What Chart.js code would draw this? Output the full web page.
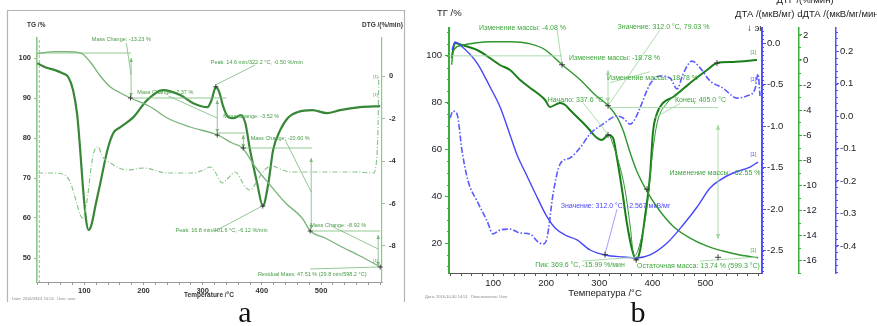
<!DOCTYPE html>
<html>
<head>
<meta charset="utf-8">
<script src="https://cdn.jsdelivr.net/npm/chart.js@4.4.1/dist/chart.umd.min.js"></script>
<style>
  body { margin: 0; background: #fff; }
  #wrap { position: relative; width: 877px; height: 326px; overflow: hidden; }
  canvas { position: absolute; top: 0; }
  #chartA { left: 0; }
  #chartB { left: 410px; }
</style>
</head>
<body>
<div id="wrap">
  <canvas id="chartA" width="410" height="326"></canvas>
  <canvas id="chartB" width="467" height="326"></canvas>
</div>
<script>
// ---------- panel a: TG / DTG ----------
var aTgTemp = [20.6, 34, 51, 68, 85, 97, 110, 127, 144, 161, 178, 212, 240, 279, 325, 350, 367, 389, 411, 440, 468, 482, 507, 532, 566, 600];
var aTgMass = [101, 101.4, 101.6, 101.6, 101.5, 101, 99, 95.5, 92.75, 91.25, 90, 87.75, 85, 82.75, 80.75, 78.75, 77.5, 72.75, 68.75, 63.75, 60, 56.75, 55, 53, 50.5, 47.75];

var aDtgTemp = [20.6, 34, 51, 63, 73, 81, 88, 93, 98, 103, 107, 112, 119, 127, 139, 149, 161, 183, 206, 233, 262, 284, 308, 315, 322.2, 328, 335, 343, 352, 364, 372, 380, 392, 401.6, 411, 419, 431, 445, 461, 485, 510, 532, 566, 600];
var aDtgRate = [0.61, 0.42, 0.28, 0.14, -0.05, -0.66, -1.84, -3.48, -5.36, -6.78, -7.25, -7.01, -6.07, -5.04, -3.48, -2.68, -2.4, -1.93, -1.13, -0.66, -0.89, -1.27, -1.46, -1.13, -0.5, -0.75, -1.46, -1.93, -1.98, -1.84, -2.21, -3.48, -5.04, -6.12, -5.04, -3.48, -2.54, -1.93, -1.69, -1.6, -1.74, -1.6, -1.46, -1.41];

// dash-dot trace, drawn against the TG scale
var aDscTemp = [22, 42.6, 63, 76, 88, 93, 97, 102, 107, 112, 119, 124, 129, 144, 173, 200, 240, 284, 301, 313, 321, 333, 343, 355, 372, 380, 394, 406, 418, 431, 448, 473, 516, 558, 588, 593, 595, 596.5, 597.5];
var aDscVal = [71.25, 71.25, 71, 69, 63.25, 60.75, 60, 62, 67, 73.25, 77.5, 77.75, 75.75, 73.75, 72, 72.5, 71.25, 71.25, 72, 72.75, 71.5, 68.75, 70, 71.5, 67.75, 67, 69.75, 72.25, 73, 72.25, 71.5, 71.5, 71.5, 71.5, 71.25, 73.25, 77, 84.5, 95.75];

var aTempLabels = [100, 200, 300, 400, 500];
var aTgLabels = [50, 60, 70, 80, 90, 100];
var aDtgLabels = [0, -2, -4, -6, -8];

// ---------- panel b: ТГ / ДТГ / ДТА / dДТА ----------
var bTgTemp = [22, 24.7, 37.9, 66, 100, 132, 170, 198, 230, 264, 292, 317, 333, 345, 358, 371, 390, 409, 439, 471, 503, 533, 565, 599.3];
var bTgMass = [96.2, 101.7, 104.3, 105.5, 106, 106, 105.1, 102.6, 96.2, 89.8, 83.4, 78.7, 74, 68.1, 58.7, 50.6, 42.1, 35.3, 27.2, 22.1, 18.7, 16.6, 14.9, 13.74];

var bDtgTemp = [22, 28, 41, 70, 94, 113, 132, 151, 170, 183, 198, 207, 226, 236, 245, 264, 277, 296, 305, 317, 326, 333, 343, 352, 362, 369.6, 377, 386, 396, 401, 409, 420, 439, 471, 503, 522, 552, 597];
var bDtgRate = [0.16, 1.36, 1.2, 0.8, 0.16, -0.4, -0.8, -1.6, -2.24, -2.64, -3.2, -3.76, -3.44, -3.6, -4.0, -4.8, -5.36, -6.24, -6.4, -6.0, -6.24, -7.76, -10.4, -13.04, -15.2, -15.99, -15.2, -12.56, -9.04, -5.84, -4.24, -3.44, -2.96, -1.84, -0.8, -0.24, -0.16, 0];

var bDtg2Temp = [320.3, 335.4, 348.6, 358, 365.6, 373.1, 390, 399.5, 409, 427.8, 452.3, 471.1];
var bDtg2Rate = [-6.08, -8, -10.4, -13.2, -15.68, -15.2, -11.76, -7.76, -5.04, -3.44, -2.56, -1.92];

var bDtaTemp = [22.8, 28.4, 37.9, 69.9, 94.4, 113.2, 132, 145.2, 160.3, 179.1, 201.7, 216.8, 235.6, 258.2, 282.7, 311, 344.8, 371.2, 395.6, 427.7, 457.8, 484.2, 508.6, 527.4, 551.9, 583.9, 599];
var bDtaVal = [-0.084, 0.012, -0.024, -0.241, -0.53, -0.771, -1.108, -1.349, -1.554, -1.807, -2.096, -2.229, -2.313, -2.373, -2.494, -2.554, -2.578, -2.59, -2.554, -2.41, -2.193, -1.976, -1.747, -1.651, -1.566, -1.494, -1.434];

var bDdtaTemp = [19, 24.7, 32.2, 41.6, 52.9, 69.9, 88.7, 100, 113.2, 132, 150.8, 169.7, 182.9, 194.2, 201.7, 213, 226.2, 245, 263.8, 282.7, 307.1, 333.5, 344.8, 358, 367.4, 376.8, 395.6, 414.5, 433.3, 446.5, 457.8, 474.7, 489.8, 508.6, 533.1, 559.5, 578.3, 593.3, 599, 602.8];
var bDdtaVal = [-0.006, 0.015, 0.006, -0.108, -0.2, -0.262, -0.323, -0.363, -0.351, -0.348, -0.36, -0.363, -0.385, -0.394, -0.375, -0.24, -0.148, -0.129, -0.098, -0.055, -0.025, 0, -0.006, -0.025, -0.009, 0.025, 0.098, 0.123, 0.117, 0.083, 0.129, 0.169, 0.148, 0.108, 0.086, 0.055, 0.062, 0.083, 0.129, 0.062];

var bTempLabels = [100, 200, 300, 400, 500];

var SANS = '"Liberation Sans", Arial, sans-serif';
var SERIF = '"Liberation Serif", "Times New Roman", serif';

function pts(xs, ys) {
  return xs.map(function (x, i) { return { x: x, y: ys[i] }; });
}

function trace(data, color, width, axis, dash) {
  return {
    data: data, borderColor: color, borderWidth: width, yAxisID: axis,
    borderDash: dash || [], pointRadius: 0, fill: false,
    cubicInterpolationMode: 'monotone'
  };
}

function fitW(w) { return function (s) { s.width = w; }; }
function fitH(h) { return function (s) { s.height = h; }; }

function yAxis(o) {
  return {
    type: 'linear', position: o.pos, min: o.min, max: o.max, weight: o.weight || 0,
    afterFit: fitW(o.w),
    border: { color: o.color, width: o.bw },
    grid: { drawOnChartArea: false, tickLength: o.tl, color: o.color },
    ticks: {
      stepSize: o.step, includeBounds: false, autoSkip: false, padding: o.pad,
      color: o.tickColor || '#222', font: o.font, callback: o.cb
    }
  };
}

function fix1(v) { return Math.abs(v) < 1e-9 ? '0.0' : v.toFixed(1); }

function head(ctx, x, y, dir, s) {
  ctx.beginPath();
  ctx.moveTo(x, y);
  ctx.lineTo(x - s * 0.45, y - dir * s);
  ctx.lineTo(x + s * 0.45, y - dir * s);
  ctx.closePath();
  ctx.fill();
}

// leader lines, arrows, labels and cross markers placed in data units
function makeMarks(n) {
  return {
    id: 'marks',
    afterDatasetsDraw: function (chart) {
      var ctx = chart.ctx, sx = chart.scales.x;
      var X = function (t) { return sx.getPixelForValue(t); };
      var Y = function (v, id) { return chart.scales[id || n.axis].getPixelForValue(v); };
      ctx.save();
      ctx.lineWidth = n.lineWidth;
      n.lines.forEach(function (l) {
        var c = l[5] || n.lineColor;
        ctx.strokeStyle = c; ctx.fillStyle = c;
        ctx.setLineDash(l[4] === 'dash' ? [3, 2] : []);
        var x1 = X(l[0]), y1 = Y(l[1]), x2 = X(l[2]), y2 = Y(l[3]);
        ctx.beginPath(); ctx.moveTo(x1, y1); ctx.lineTo(x2, y2); ctx.stroke();
        if (l[4] === 'both') {
          head(ctx, x1, y1, y1 < y2 ? -1 : 1, n.head);
          head(ctx, x2, y2, y2 > y1 ? 1 : -1, n.head);
        }
      });
      ctx.setLineDash([]);
      ctx.font = n.font; ctx.textAlign = 'center'; ctx.textBaseline = 'middle';
      n.texts.forEach(function (t) {
        ctx.font = t[4] || n.font;
        ctx.fillStyle = t[3] || n.textColor;
        ctx.fillText(t[0], X(t[1]), Y(t[2]));
      });
      ctx.strokeStyle = n.crossColor; ctx.lineWidth = 0.9;
      n.crosses.forEach(function (c) {
        var x = X(c[0]), y = Y(c[1], c[2]);
        ctx.beginPath();
        ctx.moveTo(x - n.cross, y); ctx.lineTo(x + n.cross, y);
        ctx.moveTo(x, y - n.cross); ctx.lineTo(x, y + n.cross);
        ctx.stroke();
      });
      ctx.restore();
    }
  };
}

function minorTicks(chart, id, step, len) {
  var s = chart.scales[id], ctx = chart.ctx;
  var left = s.position === 'left';
  var x0 = left ? s.right : s.left;
  ctx.save();
  ctx.strokeStyle = s.options.border.color; ctx.lineWidth = 1;
  ctx.beginPath();
  for (var v = Math.ceil(s.min / step) * step; v <= s.max; v += step) {
    var y = Math.round(s.getPixelForValue(v)) + 0.5;
    ctx.moveTo(x0, y); ctx.lineTo(left ? x0 - len : x0 + len, y);
  }
  ctx.stroke();
  ctx.restore();
}

// ---------- panel a ----------
var aSmall = '5.5px ' + SANS;
var aNotes = {
  axis: 'yTg', lineWidth: 0.8, lineColor: 'rgb(120,185,120)', head: 4,
  font: aSmall, textColor: 'rgb(70,155,70)', crossColor: '#333', cross: 2.5,
  lines: [
    [23.9, 104.5, 23.9, 44, 'dash'],
    [22, 101.25, 179, 101.25],
    [179, 100, 179, 90.25, 'both'],
    [171, 103.75, 179, 95.75],
    [179, 90, 340, 90],
    [242, 90.5, 324.6, 85],
    [324.6, 89.5, 324.6, 81.25, 'both'],
    [324.6, 81.25, 372, 81.25],
    [388.8, 98.25, 321.3, 93.25],
    [368.6, 80.75, 368.6, 77.5, 'both'],
    [368.6, 77.5, 485, 77.5],
    [439.5, 79.5, 483.4, 66.5],
    [483.4, 75, 483.4, 57.25, 'both'],
    [481.7, 56.75, 600, 56.75],
    [520.6, 57.75, 596.6, 52.25],
    [596.6, 55.75, 596.6, 48, 'both'],
    [317.9, 56.5, 400.6, 63],
    [481.7, 47.25, 596.6, 47.75]
  ],
  texts: [
    ['Mass Change: -13.23 %', 162.5, 104.75],
    ['Mass Change: -7.37 %', 236.8, 91.5],
    ['Peak: 14.6 min/322.2 °C, -0.50 %/min', 391.4, 99],
    ['Mass Change: -3.52 %', 382, 85.5],
    ['Mass Change: -20.60 %', 431, 80],
    ['Mass Change: -8.92 %', 529, 58.25],
    ['Peak: 16.8 min/401.6 °C, -6.12 %/min', 332, 57],
    ['Residual Mass: 47.51 % (29.8 min/598.2 °C)', 485, 46],
    ['[1]', 592, 95.25, null, '4px ' + SANS],
    ['[1]', 592, 90.75, null, '4px ' + SANS],
    ['[1]', 592, 49.2, null, '4px ' + SANS]
  ],
  crosses: [[178, 90], [324.6, 80.75], [368.6, 77.5], [481.7, 56.75], [600, 47.75], [322.2, -0.5, 'yDtg'], [401.6, -6.12, 'yDtg']]
};

var decorA = {
  id: 'decorA',
  afterDraw: function (chart) {
    var ctx = chart.ctx;
    ctx.save();
    ctx.strokeStyle = '#b4b4b4'; ctx.lineWidth = 1.2;
    ctx.beginPath();
    ctx.moveTo(7.5, 302); ctx.lineTo(7.5, 10.5); ctx.lineTo(404.5, 10.5); ctx.lineTo(404.5, 302);
    ctx.stroke();
    ctx.fillStyle = '#333'; ctx.font = 'bold 6.5px ' + SANS; ctx.textBaseline = 'middle';
    ctx.textAlign = 'left';
    ctx.fillText('TG /%', 27, 25);
    ctx.fillText('DTG /(%/min)', 362, 25);
    ctx.textAlign = 'center';
    ctx.fillText('Temperature /°C', 209, 295);
    ctx.textAlign = 'left'; ctx.fillStyle = '#888'; ctx.font = '4px ' + SANS;
    ctx.fillText('Date: 2016/03/01 10:24   User: user', 12, 299);
    ctx.fillStyle = '#111'; ctx.font = '30px ' + SERIF; ctx.textAlign = 'center'; ctx.textBaseline = 'alphabetic';
    ctx.fillText('a', 245, 322);
    ctx.restore();
  }
};

var aTickFont = { size: 7.5, weight: 'bold', family: SANS };

new Chart(document.getElementById('chartA'), {
  type: 'line',
  data: {
    datasets: [
      trace(pts(aDscTemp, aDscVal), 'rgb(140,196,140)', 1.2, 'yTg', [5, 2, 1, 2]),
      trace(pts(aTgTemp, aTgMass), 'rgb(120,180,120)', 1.3, 'yTg'),
      trace(pts(aDtgTemp, aDtgRate), 'rgb(55,135,55)', 2.2, 'yDtg')
    ]
  },
  options: {
    responsive: false, animation: false, devicePixelRatio: 1,
    layout: { padding: { top: 38, left: 0, right: 0, bottom: 0 }, autoPadding: false },
    plugins: { legend: { display: false }, tooltip: { enabled: false } },
    scales: {
      x: {
        type: 'linear', min: 20, max: 603, afterFit: fitH(44),
        border: { color: '#9a9a9a', width: 1 },
        grid: { drawOnChartArea: false, tickLength: 3, color: '#9a9a9a' },
        ticks: {
          stepSize: 20, autoSkip: false, maxRotation: 0, includeBounds: false, padding: 1,
          color: '#333', font: aTickFont,
          callback: function (v) { return aTempLabels.indexOf(v) >= 0 ? v : ''; }
        }
      },
      yTg: yAxis({ pos: 'left', min: 44, max: 105, step: 10, w: 37, tl: 3, pad: 3, color: 'rgb(140,200,140)', bw: 1.6, font: aTickFont, tickColor: '#333',
        cb: function (v) { return aTgLabels.indexOf(v) >= 0 ? v : ''; } }),
      yDtg: yAxis({ pos: 'right', min: -9.7, max: 1.8, step: 2, w: 28, tl: 3, pad: 4, color: 'rgb(140,200,140)', bw: 1.2, font: aTickFont, tickColor: '#333',
        cb: function (v) { return aDtgLabels.indexOf(v) >= 0 ? v : ''; } })
    }
  },
  plugins: [makeMarks(aNotes), decorA]
});

// ---------- panel b ----------
var BLUE = 'rgb(70,70,250)';
var GREEN = 'rgb(60,172,60)';
var bNotes = {
  axis: 'yTg', lineWidth: 0.9, lineColor: 'rgb(165,215,165)', head: 5,
  font: '7px ' + SANS, textColor: 'rgb(60,165,60)', crossColor: '#333', cross: 3,
  lines: [
    [17.1, 100, 229.9, 100],
    [220.5, 111.1, 229.9, 96.2],
    [414.5, 111.1, 316.5, 78.7],
    [395.6, 93.2, 320.3, 88.5],
    [316.5, 94, 316.5, 80, 'both'],
    [316.5, 77.9, 523.7, 77.9],
    [269.5, 80, 316.5, 66.4],
    [452, 79.6, 405, 73.6],
    [523.7, 70.6, 523.7, 21.7, 'both'],
    [333.5, 34.5, 310.9, 15.3, null, 'rgb(150,150,255)'],
    [267.6, 12.3, 371.2, 14.0],
    [489.8, 12.3, 597.1, 14.0]
  ],
  texts: [
    ['Изменение массы: -4.08 %', 155.5, 111.9],
    ['Значение: 312.0 °C, 79.03 %', 421, 112.3],
    ['Изменение массы: -18.78 %', 328.8, 99.15],
    ['Изменение массы: -18.78 %', 400.3, 90.6],
    ['Начало: 337.6 °C', 255.3, 81.3],
    ['Конец: 405.0 °C', 490.7, 81.3],
    ['Изменение массы: -62.55 %', 518, 49.8],
    ['Значение: 312.0 °C, -2.567 мкВ/мг', 330.7, 35.7, BLUE],
    ['Пик: 369.6 °C, -15.99 %/мин', 263.8, 10.6],
    ['Остаточная масса: 13.74 % (599.3 °C)', 486.9, 10.2],
    ['[1]', 590, 101.3, null, '5px ' + SANS],
    ['[1]', 590, 89.8, BLUE, '5px ' + SANS],
    ['[1]', 590, 57.9, BLUE, '5px ' + SANS],
    ['[1]', 590, 16.6, null, '5px ' + SANS]
  ],
  crosses: [[229.9, 96.2], [316.5, 78.7], [316.5, -6.0, 'yDtg'], [390, 43], [521.7, -0.24, 'yDtg'],
    [310.9, -2.55, 'yDta'], [369.6, -15.99, 'yDtg'], [523.7, 13.9]]
};

var decorB = {
  id: 'decorB',
  afterDraw: function (chart) {
    var ctx = chart.ctx, area = chart.chartArea;
    minorTicks(chart, 'yTg', 5, 2);
    minorTicks(chart, 'yDta', 0.05, 2);
    minorTicks(chart, 'yDtg', 1, 2);
    minorTicks(chart, 'yDdta', 0.02, 2);
    ctx.save();
    ctx.fillStyle = '#222'; ctx.font = '9.5px ' + SANS;
    ctx.textAlign = 'left'; ctx.textBaseline = 'alphabetic';
    ctx.fillText('ТГ /%', 27, 16);
    ctx.fillText('ДТА /(мкВ/мг) dДТА /(мкВ/мг/мин)', 325, 17);
    ctx.textAlign = 'center';
    ctx.fillText('ДТГ /(%/мин)', 395, 3);
    ctx.fillText('Температура /°C', 195, 296);
    ctx.save();
    ctx.beginPath(); ctx.rect(0, 0, area.right - 1, 60); ctx.clip();
    ctx.textAlign = 'left';
    ctx.fillText('↓ экзо', 337, 31);
    ctx.restore();
    ctx.textAlign = 'left'; ctx.fillStyle = '#888'; ctx.font = '4px ' + SANS;
    ctx.fillText('Дата: 2016-10-30 14:51   Пользователь: User', 15, 298);
    ctx.fillStyle = '#111'; ctx.font = '30px ' + SERIF; ctx.textAlign = 'center';
    ctx.fillText('b', 228, 322);
    ctx.restore();
  }
};

var bTickFont = { size: 9.5, family: SANS };

new Chart(document.getElementById('chartB'), {
  type: 'line',
  data: {
    datasets: [
      trace(pts(bDdtaTemp, bDdtaVal), 'rgb(90,90,255)', 1.6, 'yDdta', [6, 2, 1.5, 2]),
      trace(pts(bDtaTemp, bDtaVal), BLUE, 1.4, 'yDta'),
      trace(pts(bTgTemp, bTgMass), 'rgb(45,150,45)', 1.4, 'yTg'),
      trace(pts(bDtg2Temp, bDtg2Rate), 'rgb(45,150,45)', 1, 'yDtg'),
      trace(pts(bDtgTemp, bDtgRate), 'rgb(25,125,25)', 2, 'yDtg')
    ]
  },
  options: {
    responsive: false, animation: false, devicePixelRatio: 1,
    layout: { padding: { top: 28, left: 0, right: 0, bottom: 0 }, autoPadding: false },
    plugins: { legend: { display: false }, tooltip: { enabled: false } },
    scales: {
      x: {
        type: 'linear', min: 17, max: 606.5, afterFit: fitH(53),
        border: { color: '#555', width: 1 },
        grid: { drawOnChartArea: false, tickLength: 3, color: '#555' },
        ticks: {
          stepSize: 20, autoSkip: false, maxRotation: 0, includeBounds: false, padding: 2,
          color: '#222', font: bTickFont,
          callback: function (v) { return bTempLabels.indexOf(v) >= 0 ? v : ''; }
        }
      },
      yTg: yAxis({ pos: 'left', min: 7.2, max: 111.9, step: 20, w: 39, tl: 4, pad: 3, color: GREEN, bw: 2, font: bTickFont }),
      yDta: yAxis({ pos: 'right', weight: 0, min: -2.771, max: 0.181, step: 0.5, w: 37, tl: 4, pad: 1, color: 'rgb(80,80,255)', bw: 2, font: bTickFont, cb: fix1 }),
      yDtg: yAxis({ pos: 'right', weight: 1, min: -17.04, max: 2.56, step: 2, w: 37, tl: 3, pad: 1, color: GREEN, bw: 1.5, font: bTickFont }),
      yDdta: yAxis({ pos: 'right', weight: 2, min: -0.4831, max: 0.2708, step: 0.1, w: 41, tl: 3, pad: 1, color: 'rgb(80,80,255)', bw: 1.5, font: bTickFont, cb: fix1 })
    }
  },
  plugins: [makeMarks(bNotes), decorB]
});
</script>
</body>
</html>
